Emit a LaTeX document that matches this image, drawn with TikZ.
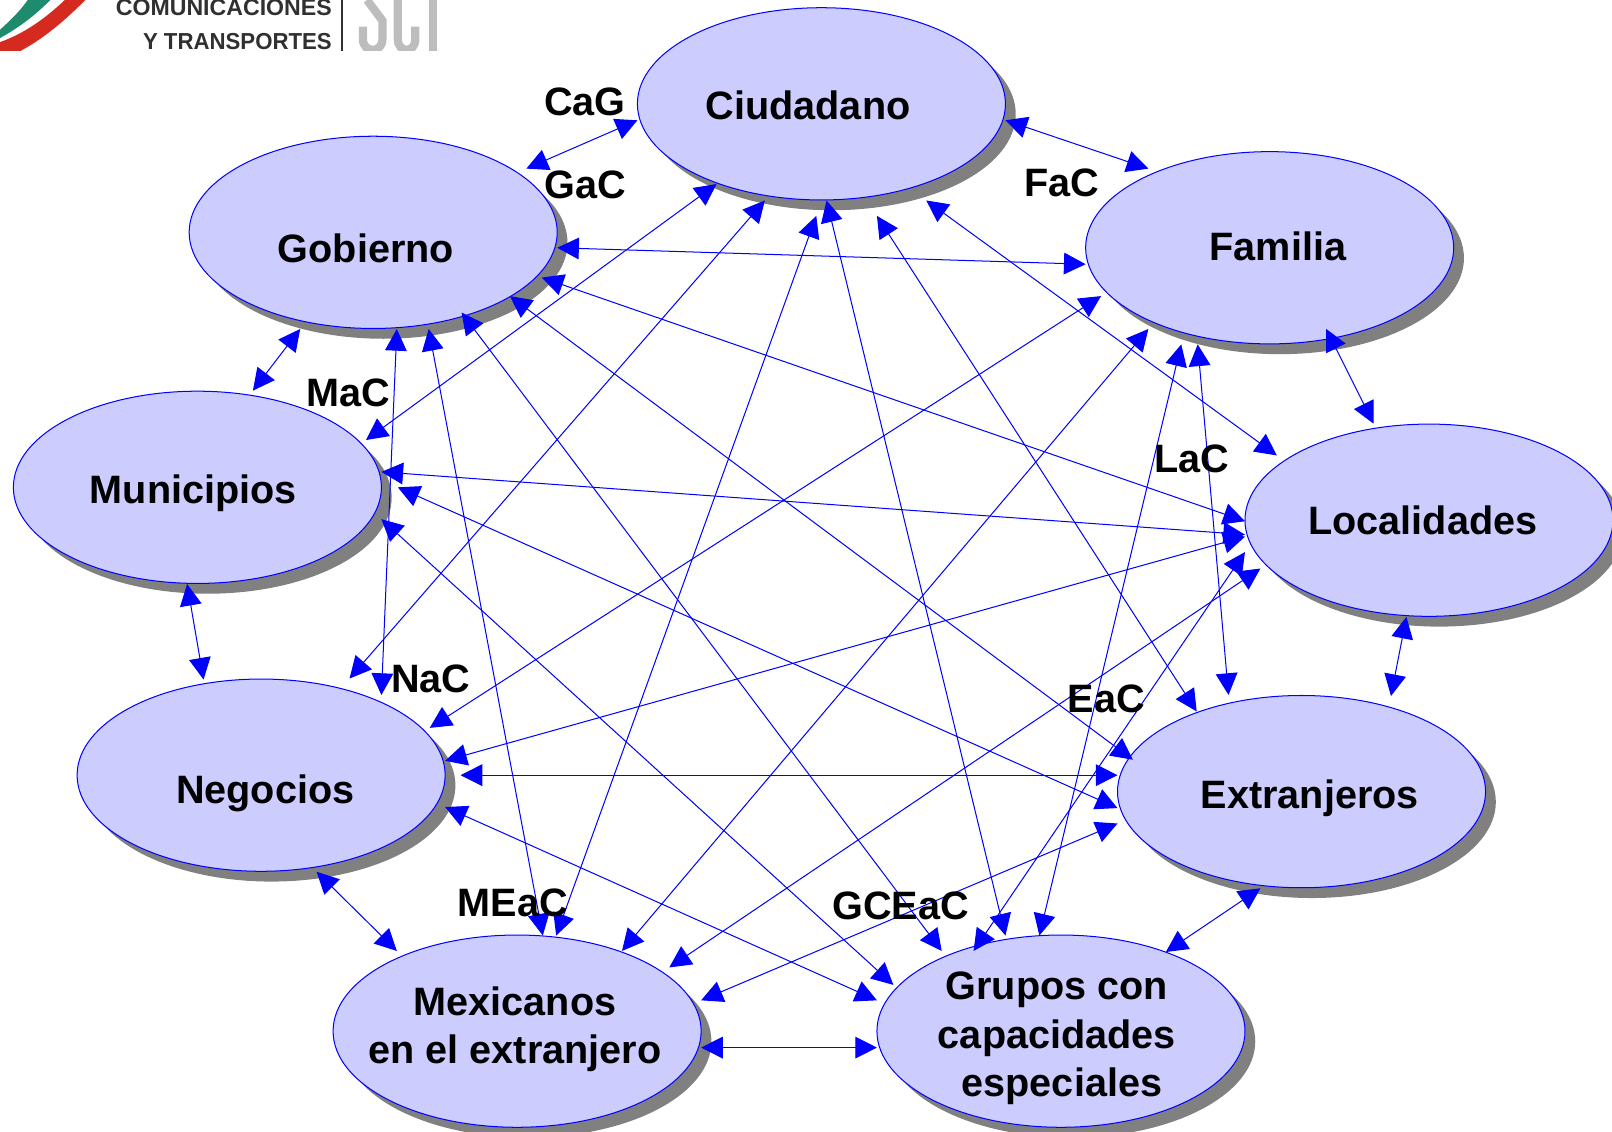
\documentclass[tikz,border=0pt]{standalone}
\usepackage{fontspec}
\setmainfont{Liberation Sans}
\usetikzlibrary{arrows.meta,shapes.geometric}
\definecolor{partyfill}{HTML}{CCCCFF}
\definecolor{shadowgrey}{HTML}{808080}
\definecolor{logodark}{HTML}{303030}
\definecolor{logogrey}{HTML}{BDBDBD}
\definecolor{logogreen}{HTML}{1E8A6E}
\definecolor{logored}{HTML}{D42A20}
\tikzset{
  x=0.025cm,y=-0.025cm,
  party/.style={ellipse,draw=blue,line width=0.7pt,fill=partyfill,minimum width=358*0.025cm,minimum height=187*0.025cm,inner sep=0pt},
  partytext/.style={align=center,font=\fontsize{27.4}{33.4}\selectfont\bfseries,text=black,inner sep=0pt},
  conn/.style={draw=blue,line width=0.7pt,{Triangle[length=15pt,width=15pt,fill=blue]}-{Triangle[length=15pt,width=15pt,fill=blue]}},
  tag/.style={font=\fontsize{27.4}{32}\selectfont\bfseries,text=black,inner sep=0pt},
  logotext/.style={font=\fontsize{16}{18}\selectfont\bfseries,text=logodark,inner sep=0pt,anchor=base east},
  logostroke/.style={logogrey,line width=5.7pt},
}
% \link{nodeA}{dx,dy}{nodeB}{dx,dy}: two-headed connector between named nodes
\newcommand{\link}[4]{\draw[conn] ([shift={(#2)}]#1.center) -- ([shift={(#4)}]#3.center);}
% \party{name}{x}{y}{text x}{text y}{text}
\newcommand{\party}[6]{%
  \fill[shadowgrey] (#2+10,#3+10) ellipse [x radius=179,y radius=93.5];
  \node[party] (#1) at (#2,#3) {};
  \node[partytext] (#1text) at (#4,#5) {#6};}
\begin{document}
\begin{tikzpicture}
\useasboundingbox (0,0) rectangle (1568,1101.1);
% logo fragment, cut off by the top of the slide
\begin{scope}
  \clip (0,0) rectangle (1568,49.5);
  \fill[logogreen] (0,29) .. controls (12,18) and (20,10) .. (27,0) -- (49,0) .. controls (35,14) and (20,26) .. (0,37) -- cycle;
  \fill[logored] (0,41) .. controls (22,33) and (42,20) .. (63,0) -- (83,0) .. controls (65,18) and (45,36) .. (20,49.5) -- (0,49.5) -- cycle;
  \draw[logodark,line width=1.2pt] (333,0) -- (333,49.5);
  \draw[logostroke] (357,0) -- (372,20) -- (372,38) .. controls (372,52) and (353,52) .. (353,38) -- (353,26);
  \draw[logostroke] (387,0) -- (387,38) .. controls (387,52) and (404,52) .. (404,38) -- (404,26);
  \draw[logostroke] (421,0) -- (421,50);
\end{scope}
\node[logotext] (logoa) at (323,15.5) {COMUNICACIONES};
\node[logotext] (logob) at (323,48.5) {\scalebox{0.96}[1]{Y TRANSPORTES}};
% parties
\party{ciu}{799}{101}{786}{102}{Ciudadano}
\party{gob}{363}{226}{356}{242}{Gobierno}
\party{fam}{1235}{241}{1243}{240}{Familia}
\party{mun}{192}{474}{188}{480}{Municipios}
\party{loc}{1390}{506}{1384}{506}{Localidades}
\party{neg}{254}{754}{258}{772}{Negocios}
\party{ext}{1266}{770}{1274}{776}{Extranjeros}
\party{mex}{503}{1003}{501}{1001}{Mexicanos\\en el extranjero}
\party{gru}{1032}{1003}{1028}{1010}{Grupos con\\capacidades\\\hspace*{7pt}especiales}
% connectors
\link{ciu}{-179,16}{gob}{149,-62}
\link{ciu}{179,16}{fam}{-118,-77}
\link{gob}{179,15}{fam}{-179,16}
\link{gob}{-71,94}{mun}{54,-94}
\link{ciu}{-102,78}{mun}{164,-46}
\link{ciu}{-55,94}{neg}{86,-94}
\link{ciu}{-5,109}{mex}{38,-93}
\link{ciu}{5,94}{gru}{-54,-93}
\link{ciu}{54,109}{ext}{-102,-78}
\link{ciu}{102,94}{loc}{-148,-63}
\link{gob}{164,44}{loc}{-179,1}
\link{gob}{133,62}{ext}{-164,-31}
\link{gob}{86,78}{gru}{-116,-78}
\link{gob}{54,94}{mex}{25,-93}
\link{gob}{23,94}{neg}{117,-78}
\link{fam}{-164,47}{neg}{164,-46}
\link{fam}{-118,79}{mex}{102,-78}
\link{fam}{-86,94}{gru}{-21,-93}
\link{fam}{-70,94}{ext}{-71,-94}
\link{fam}{55,79}{loc}{-54,-94}
\link{mun}{179,-15}{loc}{-179,14}
\link{mun}{195,0}{ext}{-179,16}
\link{mun}{179,31}{gru}{-163,-45}
\link{mun}{-10,94}{neg}{-56,-93}
\link{loc}{-179,16}{neg}{179,-14}
\link{loc}{-164,47}{mex}{148,-62}
\link{loc}{-179,31}{gru}{-85,-78}
\link{loc}{-22,94}{ext}{87,-93}
\link{neg}{194,0}{ext}{-179,-16}
\link{neg}{179,31}{gru}{-179,-30}
\link{neg}{54,94}{mex}{-117,-78}
\link{ext}{-179,31}{mex}{179,-30}
\link{ext}{-40,94}{gru}{102,-77}
\link{mex}{179,16}{gru}{-179,16}
% labels
\node[tag] (tcag) at (569,99) {CaG};
\node[tag] (tgac) at (569,180) {GaC};
\node[tag] (tfac) at (1033,178) {FaC};
\node[tag] (tmac) at (339,382) {MaC};
\node[tag] (tlac) at (1159,446) {LaC};
\node[tag] (tnac) at (419,660) {NaC};
\node[tag] (teac) at (1076,680) {EaC};
\node[tag] (tmea) at (499,878) {MEaC};
\node[tag] (tgce) at (876,881) {GCEaC};
\end{tikzpicture}
\end{document}
